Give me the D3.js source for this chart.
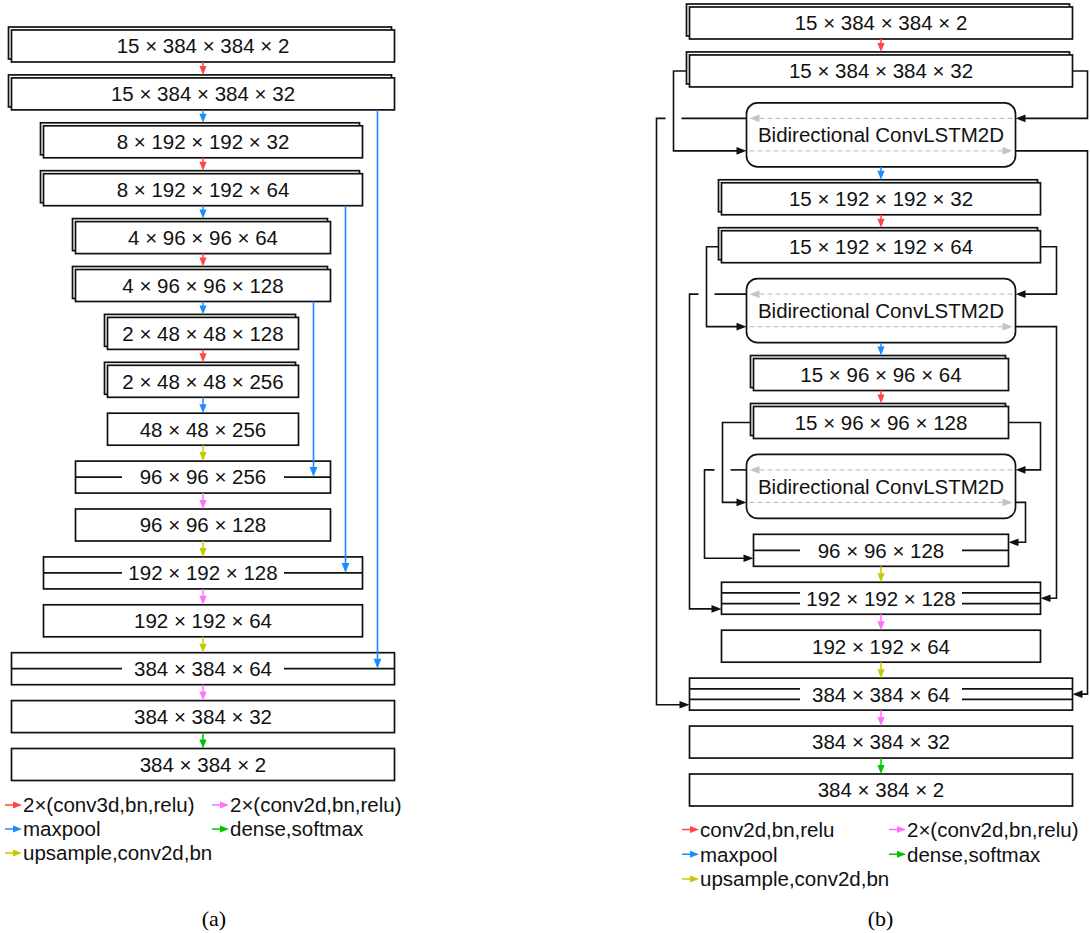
<!DOCTYPE html>
<html><head><meta charset="utf-8">
<script src="https://cdn.jsdelivr.net/npm/d3@7"></script>
<style>body{margin:0;background:#fff}svg{display:block}</style>
</head><body>
<svg id="c" width="1090" height="933"></svg>
<script>
// ---------------- DATA ----------------
// Panel (a): 3D U-Net
const aLabels = ["15 × 384 × 384 × 2","15 × 384 × 384 × 32","8 × 192 × 192 × 32","8 × 192 × 192 × 64",
  "4 × 96 × 96 × 64","4 × 96 × 96 × 128","2 × 48 × 48 × 128","2 × 48 × 48 × 256","48 × 48 × 256",
  "96 × 96 × 256","96 × 96 × 128","192 × 192 × 128","192 × 192 × 64","384 × 384 × 64","384 × 384 × 32","384 × 384 × 2"];
const aKinds = ["stack","stack","stack","stack","stack","stack","stack","stack","plain",
  "merge1","plain","merge1","plain","merge1","plain","plain"];
const aLevels = [0,0,1,1,2,2,3,3,3,2,2,1,1,0,0,0];
const aOps = ["conv3","pool","conv3","pool","conv3","pool","conv3","pool","up","conv2","up","conv2","up","conv2","dense"];
const aSkips = [[1,13],[3,11],[5,9]];
const aLegend = [["conv3","2×(conv3d,bn,relu)"],["conv2","2×(conv2d,bn,relu)"],["pool","maxpool"],["dense","dense,softmax"],["up","upsample,conv2d,bn"]];

// Panel (b): ConvLSTM U-Net
const bLabels = ["15 × 384 × 384 × 2","15 × 384 × 384 × 32","Bidirectional ConvLSTM2D","15 × 192 × 192 × 32",
  "15 × 192 × 192 × 64","Bidirectional ConvLSTM2D","15 × 96 × 96 × 64","15 × 96 × 96 × 128","Bidirectional ConvLSTM2D",
  "96 × 96 × 128","192 × 192 × 128","192 × 192 × 64","384 × 384 × 64","384 × 384 × 32","384 × 384 × 2"];
const bKinds = ["stack","stack","lstm","stack","stack","lstm","stack","stack","lstm","merge1","merge2","plain","merge2","plain","plain"];
const bLevels = [0,0,null,1,1,null,2,2,null,2,1,1,0,0,0];
const bOps = ["conv1",null,"pool","conv1",null,"pool","conv1",null,null,"up","conv2","up","conv2","dense"];
const bLinks = [{lstm:2,from:1,to:12},{lstm:5,from:4,to:10},{lstm:8,from:7,to:9}];
const bLegend = [["conv1","conv2d,bn,relu"],["conv2","2×(conv2d,bn,relu)"],["pool","maxpool"],["dense","dense,softmax"],["up","upsample,conv2d,bn"]];

const captions = ["(a)","(b)"];

// ---------------- STYLE ----------------
const FONT = "'Liberation Sans', Arial, sans-serif";
const FS = 20.5;
const SW = 1.7;
const opColor = {conv3:"#ff4545",conv1:"#ff4545",pool:"#1a8cff",up:"#c8c800",conv2:"#ff70ff",dense:"#00c400"};
const svg = d3.select("#c");
const line = d3.line();
const BH = 32;

function head(g,x,y,dir,color,len=9,hw=3.6){
  let p;
  if(dir==="down") p=[[x,y],[x-hw,y-len],[x+hw,y-len]];
  else if(dir==="left") p=[[x,y],[x+len,y-hw],[x+len,y+hw]];
  else p=[[x,y],[x-len,y-hw],[x-len,y+hw]];
  g.append("path").attr("d","M"+p.map(q=>q.join(",")).join("L")+"Z").attr("fill",color);
}
function poly(g,pts,color,w=1.5,dash=null){
  const s=g.append("path").attr("d",line(pts)).attr("fill","none").attr("stroke",color).attr("stroke-width",w);
  if(dash) s.attr("stroke-dasharray",dash);
  return s;
}
function label(g,x,y,t){
  g.append("text").attr("x",x).attr("y",y).attr("dy","0.36em").attr("text-anchor","middle")
   .attr("font-family",FONT).attr("font-size",FS).attr("fill","#111").text(t);
}
function box(g,cx,cy,hw,kind,t){
  const x=cx-hw, y=cy-BH/2, w=2*hw;
  if(kind==="stack"){
    g.append("rect").attr("x",x-3).attr("y",y-3).attr("width",w).attr("height",BH)
     .attr("fill","#fff").attr("stroke","#111").attr("stroke-width",SW);
  }
  g.append("rect").attr("x",x).attr("y",y).attr("width",w).attr("height",BH)
   .attr("fill","#fff").attr("stroke","#111").attr("stroke-width",SW);
  const n = kind==="merge1"?1:kind==="merge2"?2:0;
  for(let k=1;k<=n;k++){
    const ly=y+k*BH/(n+1);
    poly(g,[[x,ly],[cx-81,ly]],"#111",SW);
    poly(g,[[cx+81,ly],[x+w,ly]],"#111",SW);
  }
  label(g,cx,cy,t);
}
function opArrow(g,x,y0,y1,op){
  const c=opColor[op];
  poly(g,[[x,y0],[x,y1-6]],c,1.5);
  head(g,x,y1,"down",c);
}
function legend(g,x,y,op,t){
  const c=opColor[op];
  poly(g,[[x,y],[x+10,y]],c,1.5);
  head(g,x+17,y,"right",c,9,3.4);
  g.append("text").attr("x",x+18).attr("y",y).attr("dy","0.36em").attr("font-family",FONT)
   .attr("font-size",FS).attr("fill","#111").text(t);
}

// ---------------- PANEL A ----------------
const gA = svg.append("g");
const cxA = 203;
const yA = d3.scaleLinear().domain([0,aLabels.length-1]).range([46,764.5]);
const hwA = d3.scaleLinear().domain([0,3]).range([191.5,95.5]);
aLabels.forEach((t,i)=>box(gA,cxA,yA(i),hwA(aLevels[i]),aKinds[i],t));
aOps.forEach((op,i)=>{
  const top = yA(i+1)-BH/2-(aKinds[i+1]==="stack"?3:0);
  opArrow(gA,cxA,yA(i)+BH/2,top,op);
});
aSkips.forEach(([s,t])=>{
  const x = cxA+hwA(aLevels[s])-17;
  const c = opColor.pool;
  poly(gA,[[x,yA(s)+BH/2],[x,yA(t)-7]],c,1.6);
  head(gA,x,yA(t),"down",c,10,3.8);
});
const legA = d3.scaleLinear().domain([0,2]).range([805,853]);
aLegend.forEach(([op,t],i)=>legend(gA,i%2?212:5,legA(Math.floor(i/2)),op,t));
gA.append("text").attr("x",214).attr("y",926).attr("text-anchor","middle")
  .attr("font-family","'Liberation Serif','Times New Roman',serif").attr("font-size",22).text(captions[0]);

// ---------------- PANEL B ----------------
const gB = svg.append("g");
const cxB = 881;
const units=[0];
for(let i=1;i<bKinds.length;i++) units.push(units[i-1]+((bKinds[i]==="lstm"||bKinds[i-1]==="lstm")?4/3:1));
const yB = d3.scaleLinear().domain([0,units[units.length-1]]).range([23,790]);
const hwB = d3.scaleLinear().domain([0,3]).range([191.5,95.5]);
const LHW = 134.5, LH = 64;
const halfH = i => bKinds[i]==="lstm"?LH/2:BH/2;
const hwOf = i => bKinds[i]==="lstm"?LHW:hwB(bLevels[i]);

// routing offsets (layout)
const route = [
  {rIn:15, lIn:-13, lOut:-33, rOut:15},
  {rIn:16, lIn:-12, lOut:-32, rOut:16},
  {rIn:32, lIn:-28, lOut:-49, rOut:17}
];

bLabels.forEach((t,i)=>{
  const cy=yB(units[i]);
  if(bKinds[i]==="lstm"){
    gB.append("rect").attr("x",cxB-LHW).attr("y",cy-LH/2).attr("width",2*LHW).attr("height",LH)
      .attr("rx",11).attr("fill","#fff").attr("stroke","#111").attr("stroke-width",SW);
    const g="#c4c4c4";
    poly(gB,[[cxB+LHW-3,cy-16.5],[cxB-LHW+12,cy-16.5]],g,1.3,"5,3");
    head(gB,cxB-LHW+3,cy-16.5,"left",g,10,3.8);
    poly(gB,[[cxB-LHW+3,cy+16],[cxB+LHW-12,cy+16]],g,1.3,"5,3");
    head(gB,cxB+LHW-3,cy+16,"right",g,10,3.8);
    label(gB,cxB,cy,t);
  } else box(gB,cxB,cy,hwB(bLevels[i]),bKinds[i],t);
});
bOps.forEach((op,i)=>{
  if(!op) return;
  const top = yB(units[i+1])-halfH(i+1)-(bKinds[i+1]==="stack"?3:0);
  opArrow(gB,cxB,yB(units[i])+halfH(i),top,op);
});
bLinks.forEach((lk,k)=>{
  const r=route[k];
  const cy=yB(units[lk.lstm]), yU=cy-16.5, yL=cy+16;
  const L=cxB-LHW, R=cxB+LHW;
  const fy=yB(units[lk.from]), fhw=hwOf(lk.from);
  const ty=yB(units[lk.to]), thw=hwOf(lk.to);
  const xRin=cxB+fhw+r.rIn, xLin=cxB-fhw-3+r.lIn;
  const xLout=cxB-thw+r.lOut, xRout=cxB+thw+r.rOut;
  const n = bKinds[lk.to]==="merge1"?1:2;
  const sh = BH/(n+1), tTop=ty-BH/2;
  const ySecR = tTop+(n-1+0.5)*sh, ySecL = tTop+(n+0.5)*sh;
  const k0="#111";
  poly(gB,[[cxB+fhw,fy],[xRin,fy],[xRin,yU],[R+9,yU]],k0,1.6);
  head(gB,R,yU,"left",k0,10,3.8);
  poly(gB,[[cxB-fhw-3,fy],[xLin,fy],[xLin,yL],[L-9,yL]],k0,1.6);
  head(gB,L,yL,"right",k0,10,3.8);
  poly(gB,[[L,yU],[xLin+8,yU]],k0,1.6);
  poly(gB,[[xLin-8,yU],[xLout,yU],[xLout,ySecL],[cxB-thw-9,ySecL]],k0,1.6);
  head(gB,cxB-thw,ySecL,"right",k0,10,3.8);
  poly(gB,[[R,yL],[xRout,yL],[xRout,ySecR],[cxB+thw+9,ySecR]],k0,1.6);
  head(gB,cxB+thw,ySecR,"left",k0,10,3.8);
});
const legB = d3.scaleLinear().domain([0,2]).range([829.5,879]);
bLegend.forEach(([op,t],i)=>legend(gB,i%2?889:682,legB(Math.floor(i/2)),op,t));
gB.append("text").attr("x",880.5).attr("y",926).attr("text-anchor","middle")
  .attr("font-family","'Liberation Serif','Times New Roman',serif").attr("font-size",22).text(captions[1]);
</script>
</body></html>
